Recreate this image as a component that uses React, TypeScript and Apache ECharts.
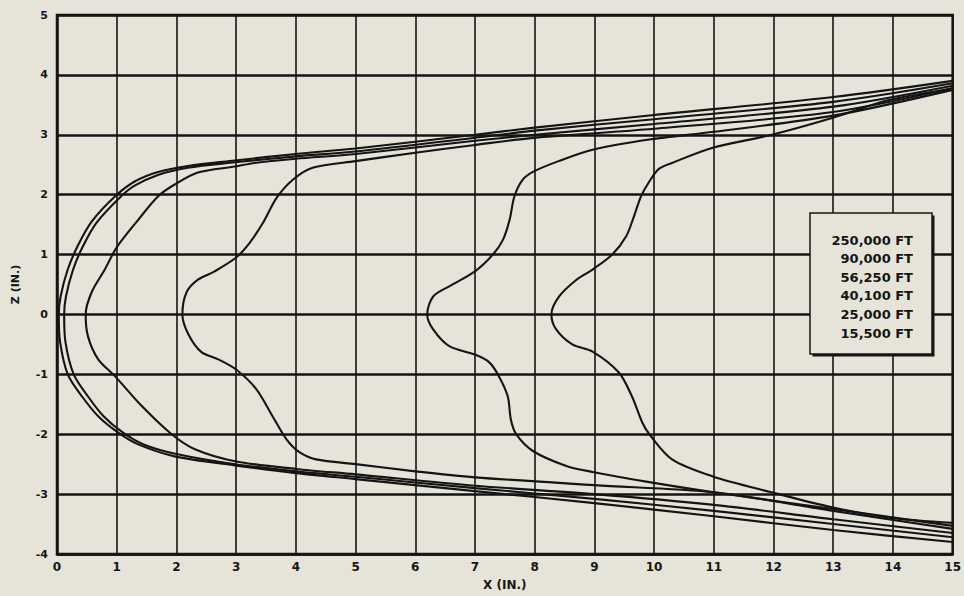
import React, { useEffect, useRef } from "react";
import * as echarts from "echarts";

// Legend labels (altitudes), outermost profile first
const altitudes = ["250,000 FT", "90,000 FT", "56,250 FT", "40,100 FT", "25,000 FT", "15,500 FT"];

// Axis ticks
const xTicks = { min: 0, max: 15, interval: 1 };
const zTicks = { min: -4, max: 5, interval: 1 };

// Nose profiles [x (in), z (in)], traced from upper aft end, round the nose, to lower aft end
const p250000 = [
  [15, 3.9], [13, 3.63], [10, 3.33], [8, 3.12], [7, 3.0], [5, 2.77], [4, 2.68], [2.98, 2.57],
  [2.19, 2.48], [1.69, 2.38], [1.3, 2.22], [0.97, 1.97], [0.58, 1.55], [0.35, 1.15], [0.18, 0.75],
  [0.06, 0.3], [0.03, 0], [0.05, -0.45], [0.18, -1.0], [0.42, -1.37], [0.69, -1.7], [1.02, -1.97],
  [1.36, -2.17], [1.97, -2.37], [2.98, -2.52], [4, -2.65], [5, -2.75], [7, -2.95], [9, -3.15],
  [11, -3.37], [13, -3.6], [15, -3.8],
];
const p90000 = [
  [15, 3.86], [13, 3.55], [10, 3.26], [8, 3.07], [7, 2.95], [5, 2.72], [4, 2.64], [2.98, 2.54],
  [2.19, 2.45], [1.69, 2.33], [1.3, 2.15], [1.05, 1.95], [0.66, 1.53], [0.43, 1.13], [0.27, 0.75],
  [0.15, 0.3], [0.12, 0], [0.14, -0.45], [0.28, -1.0], [0.52, -1.37], [0.78, -1.7], [1.1, -1.97],
  [1.45, -2.17], [2.0, -2.33], [2.98, -2.5], [4, -2.62], [5, -2.71], [7, -2.9], [9, -3.08],
  [11, -3.28], [13, -3.5], [15, -3.72],
];
const p56250 = [
  [15, 3.82], [13, 3.47], [10, 3.18], [8, 3.0], [7, 2.9], [5, 2.68], [4, 2.6], [3.31, 2.53],
  [2.98, 2.47], [2.36, 2.37], [1.97, 2.17], [1.69, 1.97], [1.36, 1.58], [1.0, 1.12], [0.8, 0.75],
  [0.58, 0.37], [0.48, 0], [0.52, -0.37], [0.69, -0.75], [0.97, -1.03], [1.42, -1.53], [1.92, -2.0],
  [2.31, -2.25], [2.98, -2.45], [4, -2.58], [5, -2.67], [7, -2.86], [9, -3.0], [11, -3.18],
  [13, -3.42], [15, -3.65],
];
const p40100 = [
  [15, 3.78], [13, 3.38], [10, 3.1], [7.9, 2.94], [7.0, 2.83], [6.0, 2.7], [5.0, 2.56], [4.28, 2.45],
  [3.95, 2.25], [3.68, 1.95], [3.45, 1.53], [3.23, 1.2], [3.0, 0.95], [2.64, 0.72], [2.36, 0.58],
  [2.17, 0.37], [2.1, 0], [2.2, -0.33], [2.42, -0.63], [2.7, -0.75], [3.0, -0.92], [3.34, -1.25],
  [3.61, -1.7], [3.84, -2.08], [4.06, -2.3], [4.34, -2.42], [5, -2.5], [6, -2.62], [7, -2.72],
  [9, -2.85], [11, -2.97], [13, -3.28], [15, -3.58],
];
const p25000 = [
  [15, 3.75], [13, 3.32], [11, 3.05], [9.92, 2.92], [8.97, 2.75], [8.4, 2.56], [7.97, 2.38],
  [7.8, 2.25], [7.66, 1.97], [7.58, 1.58], [7.47, 1.25], [7.3, 1.0], [7.0, 0.72], [6.57, 0.47],
  [6.3, 0.3], [6.2, 0], [6.3, -0.25], [6.57, -0.53], [7.0, -0.67], [7.24, -0.8], [7.4, -1.03],
  [7.55, -1.37], [7.6, -1.75], [7.69, -2.0], [7.97, -2.28], [8.53, -2.53], [8.97, -2.63],
  [9.92, -2.8], [11, -2.97], [13, -3.25], [15, -3.53],
];
const p15500 = [
  [15, 3.77], [13.93, 3.58], [12.98, 3.28], [11.97, 3.0], [10.97, 2.78], [10.3, 2.53], [10.08, 2.43],
  [9.92, 2.22], [9.78, 1.97], [9.66, 1.63], [9.53, 1.3], [9.3, 1.0], [8.97, 0.75], [8.7, 0.58],
  [8.41, 0.3], [8.28, 0], [8.36, -0.25], [8.63, -0.5], [8.97, -0.62], [9.41, -0.97], [9.63, -1.37],
  [9.8, -1.8], [9.92, -2.0], [10.3, -2.42], [10.97, -2.7], [11.97, -2.97], [12.98, -3.22],
  [13.98, -3.4], [15, -3.48],
];

const profiles = [p250000, p90000, p56250, p40100, p25000, p15500];

const BG = "#e6e4d9";
const INK = "#141414";
const FONT = "DejaVu Sans";

export default function App() {
  const ref = useRef<HTMLDivElement>(null);

  useEffect(() => {
    if (!ref.current) return;
    const chart = echarts.init(ref.current, null, { renderer: "svg" });

    const boxX = 810, boxY = 213, boxW = 122, boxH = 141;
    const legendTexts = altitudes.map((a, i) => ({
      type: "text",
      x: 913,
      y: 240 + i * 18.6,
      style: {
        text: a,
        align: "right",
        verticalAlign: "middle",
        fill: INK,
        font: `bold 13px "${FONT}"`,
      },
      z: 102,
    }));

    chart.setOption({
      animation: false,
      backgroundColor: BG,
      grid: { left: 57, top: 15, right: 9, bottom: 41, show: true, borderColor: INK, borderWidth: 2.5, backgroundColor: "transparent" },
      xAxis: {
        type: "value",
        min: xTicks.min,
        max: xTicks.max,
        interval: xTicks.interval,
        name: "X (IN.)",
        nameLocation: "middle",
        nameGap: 25,
        nameTextStyle: { color: INK, fontFamily: FONT, fontWeight: "bold", fontSize: 12 },
        axisLine: { show: true, onZero: false, lineStyle: { color: INK, width: 2.5 } },
        axisTick: { show: false },
        axisLabel: { color: INK, fontFamily: FONT, fontWeight: "bold", fontSize: 12, margin: 7 },
        splitLine: { show: true, lineStyle: { color: INK, width: 1.6, type: "solid" } },
      },
      yAxis: {
        type: "value",
        min: zTicks.min,
        max: zTicks.max,
        interval: zTicks.interval,
        name: "Z (IN.)",
        nameLocation: "middle",
        nameGap: 36,
        nameRotate: 90,
        nameTextStyle: { color: INK, fontFamily: FONT, fontWeight: "bold", fontSize: 11 },
        axisLine: { show: true, onZero: false, lineStyle: { color: INK, width: 2.5 } },
        axisTick: { show: false },
        axisLabel: { color: INK, fontFamily: FONT, fontWeight: "bold", fontSize: 11, margin: 9 },
        splitLine: { show: true, lineStyle: { color: INK, width: 2.6, type: "solid" } },
      },
      series: profiles.map((d, i) => ({
        type: "line",
        name: altitudes[i],
        data: d,
        showSymbol: false,
        symbol: "none",
        smooth: 0.3,
        lineStyle: { color: INK, width: 2.1 },
        z: 3,
      })),
      graphic: [
        {
          type: "rect",
          shape: { x: boxX + 2.5, y: boxY + 2.5, width: boxW, height: boxH },
          style: { fill: INK },
          z: 100,
        },
        {
          type: "rect",
          shape: { x: boxX, y: boxY, width: boxW, height: boxH },
          style: { fill: BG, stroke: INK, lineWidth: 1.5 },
          z: 101,
        },
        ...legendTexts,
      ],
    });

    return () => chart.dispose();
  }, []);

  return (
    <div
      ref={ref}
      style={{ position: "fixed", left: 0, top: 0, width: 964, height: 596, background: BG }}
    />
  );
}
